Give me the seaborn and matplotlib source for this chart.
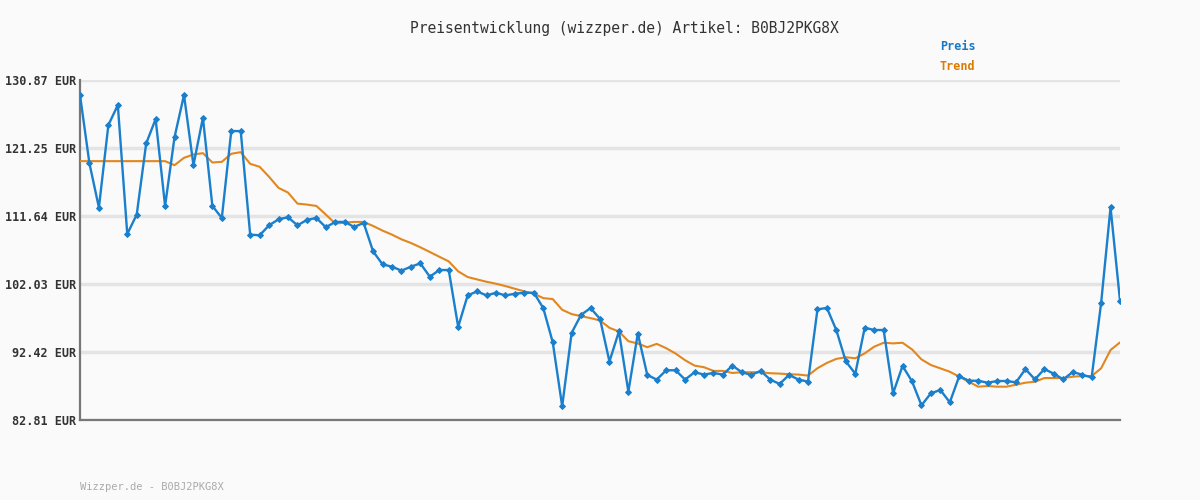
import matplotlib
matplotlib.use("Agg")
import matplotlib.pyplot as plt
import seaborn as sns
import pandas as pd

# Preis, 111 points
preis = [128.75, 119.07, 112.84, 124.50, 127.33, 109.10, 111.85, 121.90, 125.35, 113.07,
         122.80, 128.75, 118.83, 125.54, 113.07, 111.37, 123.65, 123.65, 109.01, 108.92,
         110.33, 111.18, 111.47, 110.33, 111.09, 111.37, 110.05, 110.81, 110.81, 110.10,
         110.67, 106.65, 104.81, 104.48, 103.92, 104.48, 104.95, 103.06, 104.01, 104.01,
         95.98, 100.42, 100.99, 100.42, 100.80, 100.42, 100.66, 100.80, 100.80, 98.63,
         93.81, 84.75, 95.13, 97.68, 98.63, 97.11, 91.07, 95.32, 86.82, 95.03,
         89.18, 88.52, 89.84, 89.84, 88.52, 89.56, 89.23, 89.46, 89.23, 90.50,
         89.56, 89.18, 89.75, 88.52, 87.91, 89.18, 88.52, 88.24, 98.45, 98.65,
         95.50, 91.10, 89.35, 95.86, 95.53, 95.53, 86.59, 90.45, 88.28, 84.88,
         86.59, 87.05, 85.31, 89.02, 88.36, 88.36, 88.08, 88.32, 88.32, 88.13,
         90.01, 88.55, 90.01, 89.35, 88.55, 89.59, 89.21, 88.83, 99.30, 112.87,
         99.68]

trend = [119.40, 119.40, 119.40, 119.40, 119.40, 119.40, 119.40, 119.40, 119.40, 119.40,
         118.83, 119.87, 120.34, 120.53, 119.21, 119.30, 120.44, 120.67, 119.02, 118.60,
         117.18, 115.62, 114.96, 113.40, 113.26, 113.07, 111.85, 110.57, 110.71, 110.81,
         110.81, 110.24, 109.58, 109.01, 108.35, 107.83, 107.22, 106.56, 105.89, 105.23,
         103.82, 103.02, 102.68, 102.35, 102.07, 101.74, 101.36, 100.99, 100.66, 100.04,
         99.90, 98.39, 97.78, 97.49, 97.21, 96.88, 95.84, 95.32, 93.95, 93.62,
         93.10, 93.57, 92.96, 92.20, 91.26, 90.50, 90.27, 89.75, 89.75, 89.46,
         89.56, 89.56, 89.56, 89.42, 89.37, 89.28, 89.23, 89.09, 90.13, 90.88,
         91.45, 91.68, 91.54, 92.23, 93.17, 93.73, 93.64, 93.73, 92.79, 91.38,
         90.58, 90.11, 89.63, 88.93, 88.22, 87.52, 87.61, 87.52, 87.52, 87.80,
         88.08, 88.22, 88.74, 88.74, 88.74, 88.93, 89.02, 89.02, 90.11, 92.70,
         93.78]

y_ticks = [82.81, 92.42, 102.03, 111.64, 121.25, 130.87]
titel = "Preisentwicklung (wizzper.de) Artikel: B0BJ2PKG8X"
fusszeile = "Wizzper.de - B0BJ2PKG8X"

df = pd.DataFrame({"idx": range(len(preis)), "Preis": preis, "Trend": trend})

sns.set_style("white")
plt.rcParams['font.family'] = ['DejaVu Sans Mono']

blau = "#1a7fcc"
orange = "#e2871f"
bg = "#fafafa"

fig = plt.figure(figsize=(12, 5), dpi=100, facecolor=bg)
ax = fig.add_axes([80/1200, 80/500, 1040/1200, 340/500])
ax.set_facecolor(bg)

sns.lineplot(data=df, x="idx", y="Trend", color=orange, linewidth=1.5, ax=ax, zorder=3)
sns.lineplot(data=df, x="idx", y="Preis", color=blau, linewidth=1.7, marker="D",
             markersize=3, markeredgecolor=blau, ax=ax, zorder=4)

ax.set_xlim(0, len(preis) - 1)
ax.set_ylim(y_ticks[0], y_ticks[-1])
ax.set_yticks(y_ticks)
ax.set_yticklabels([f"{v:.2f} EUR" for v in y_ticks], fontsize=8.5, color="#333333",
                   fontweight="bold")
ax.set_xticks([])
ax.set_xlabel("")
ax.set_ylabel("")
ax.tick_params(axis="y", length=0, pad=3)
ax.yaxis.grid(True, color="#e4e4e4", linewidth=2.5, zorder=0)
ax.set_axisbelow(True)

for s in ["top", "right"]:
    ax.spines[s].set_visible(False)
for s in ["left", "bottom"]:
    ax.spines[s].set_color("#777777")
    ax.spines[s].set_linewidth(1.6)

fig.text(624/1200, 1 - 28/500, titel, ha="center", va="center", fontsize=10.5, color="#333333")
fig.text(940/1200, 1 - 47/500, "Preis", ha="left", va="center", fontsize=8.5,
         color="#1a78c2", fontweight="bold")
fig.text(940/1200, 1 - 67/500, "Trend", ha="left", va="center", fontsize=8.5,
         color="#d97c00", fontweight="bold")
fig.text(80/1200, 1 - 487/500, fusszeile, ha="left", va="center", fontsize=7.5, color="#aaaaaa")

fig.savefig("out.png", dpi=100, facecolor=bg)
